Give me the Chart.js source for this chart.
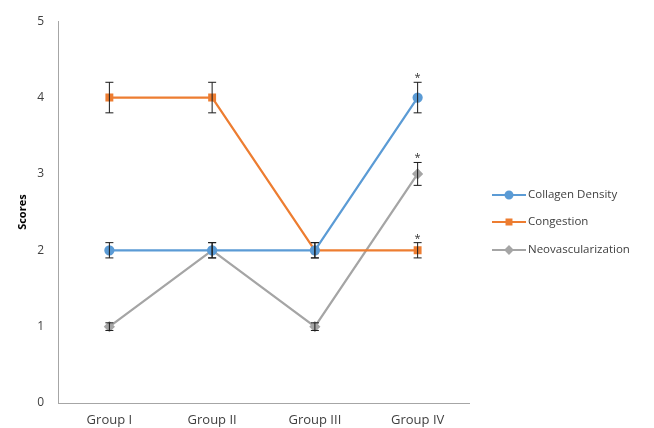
<!DOCTYPE html>
<html>
<head>
<meta charset="utf-8">
<script src="https://cdn.jsdelivr.net/npm/chart.js"></script>
<style>
  body { margin: 0; background: #fff; }
  #wrap { width: 654px; height: 428px; }
</style>
</head>
<body>
<div id="wrap"><canvas id="c" width="654" height="428"></canvas></div>
<script>
// data
const groups = ['Group I', 'Group II', 'Group III', 'Group IV'];
const collagen = [2, 2, 2, 4];
const congestion = [4, 4, 2, 2];
const neovasc = [1, 2, 1, 3];
const collagenErr = [0.1, 0.1, 0.1, 0.2];
const congestionErr = [0.2, 0.2, 0.1, 0.1];
const neovascErr = [0.05, 0.1, 0.05, 0.15];
// asterisk marks (significant) per group
const collagenSig = [false, false, false, true];
const congestionSig = [false, false, false, true];
const neovascSig = [false, false, false, true];
const yTicks = [0, 1, 2, 3, 4, 5];

const FONT = '"Open Sans", sans-serif';

// error bars + asterisks
const errorBars = {
  id: 'errorBars',
  afterDatasetsDraw(chart) {
    const ctx = chart.ctx;
    const y = chart.scales.y;
    chart.data.datasets.forEach((ds, i) => {
      const meta = chart.getDatasetMeta(i);
      meta.data.forEach((pt, j) => {
        const e = ds.errors[j];
        const top = y.getPixelForValue(ds.data[j] + e);
        const bot = y.getPixelForValue(ds.data[j] - e);
        ctx.save();
        ctx.strokeStyle = '#1a1a1a';
        ctx.lineWidth = 1;
        ctx.beginPath();
        ctx.moveTo(pt.x, top); ctx.lineTo(pt.x, bot);
        ctx.moveTo(pt.x - 4, top); ctx.lineTo(pt.x + 4, top);
        ctx.moveTo(pt.x - 4, bot); ctx.lineTo(pt.x + 4, bot);
        ctx.stroke();
        if (ds.sig[j]) {
          ctx.fillStyle = '#333';
          ctx.font = '11px ' + FONT;
          ctx.textAlign = 'center';
          ctx.textBaseline = 'alphabetic';
          ctx.fillText('*', pt.x, top - 1);
        }
        ctx.restore();
      });
    });
  }
};

// Excel-style legend: line with marker in the middle
const sideLegend = {
  id: 'sideLegend',
  afterDraw(chart) {
    const ctx = chart.ctx;
    const x0 = 492, x1 = 526, rowY = [195, 222, 250];
    chart.data.datasets.forEach((ds, i) => {
      const ly = rowY[i];
      ctx.save();
      ctx.strokeStyle = ds.borderColor;
      ctx.lineWidth = 2;
      ctx.beginPath();
      ctx.moveTo(x0, ly); ctx.lineTo(x1, ly);
      ctx.stroke();
      ctx.fillStyle = ds.borderColor;
      Chart.helpers.drawPoint(ctx, {
        pointStyle: ds.pointStyle, radius: 3.5, rotation: 0, borderWidth: 1
      }, (x0 + x1) / 2, ly);
      ctx.fillStyle = '#404040';
      ctx.font = '11.5px ' + FONT;
      ctx.textBaseline = 'middle';
      ctx.fillText(ds.label, x1 + 2, ly);
      ctx.restore();
    });
  }
};

function series(label, data, errs, sig, color, style) {
  return {
    label: label, data: data, errors: errs, sig: sig,
    borderColor: color, backgroundColor: color,
    pointBackgroundColor: color, pointBorderColor: color,
    pointStyle: style, pointRadius: 4,
    borderWidth: 2.25, tension: 0
  };
}

new Chart(document.getElementById('c'), {
  type: 'line',
  data: {
    labels: groups,
    datasets: [
      series('Collagen Density', collagen, collagenErr, collagenSig, '#5B9BD5', 'circle'),
      series('Congestion', congestion, congestionErr, congestionSig, '#ED7D31', 'rect'),
      series('Neovascularization', neovasc, neovascErr, neovascSig, '#A5A5A5', 'rectRot')
    ]
  },
  options: {
    responsive: false,
    animation: false,
    layout: { padding: { top: 20, right: 185, left: 0, bottom: 0 } },
    plugins: { legend: { display: false }, tooltip: { enabled: false } },
    scales: {
      x: {
        offset: true,
        grid: { display: false, drawTicks: false },
        border: { color: '#a6a6a6', width: 1 },
        ticks: { color: '#404040', font: { family: FONT, size: 13 }, padding: 9 },
        afterFit(s) { s.height = 25; }
      },
      y: {
        min: 0, max: 5,
        afterBuildTicks(s) { s.ticks = yTicks.map(v => ({ value: v })); },
        grid: { display: false, drawTicks: false },
        border: { color: '#a6a6a6', width: 1 },
        ticks: { color: '#404040', font: { family: FONT, size: 12 }, padding: 14 },
        title: { display: true, text: 'Scores', color: '#000', font: { family: FONT, size: 11, weight: 'bold' }, padding: { top: 16, bottom: 0 } },
        afterFit(s) { s.width = 58; }
      }
    }
  },
  plugins: [errorBars, sideLegend]
});
</script>
</body>
</html>
